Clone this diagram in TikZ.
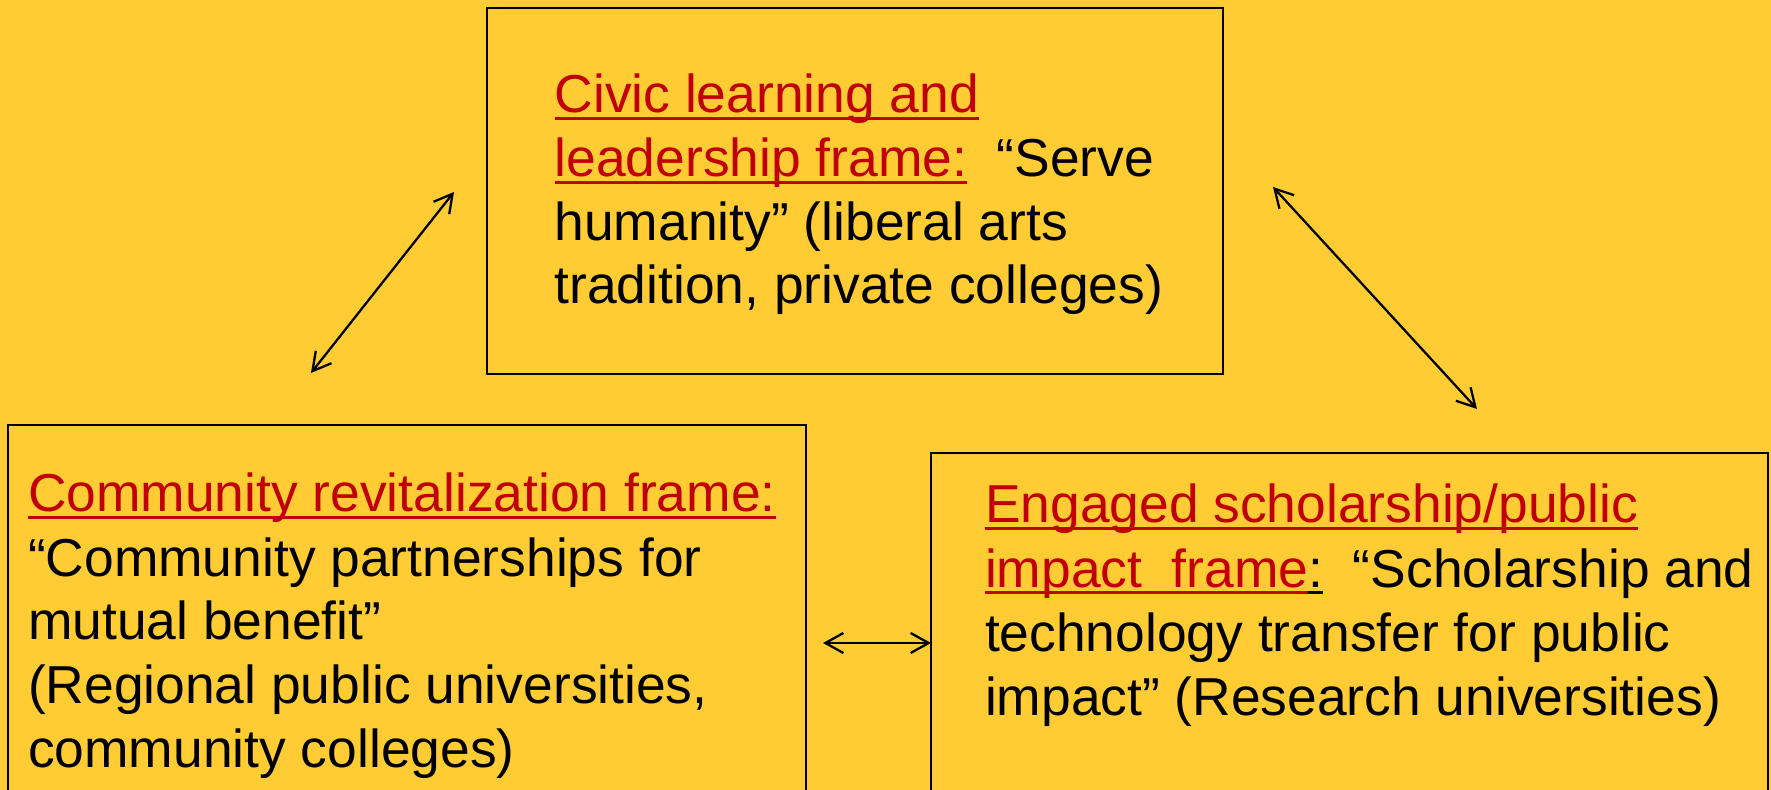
\documentclass[tikz,border=0pt]{standalone}
\usepackage{fontspec}
\setmainfont{Liberation Sans}
\usetikzlibrary{arrows.meta,calc}
\definecolor{bgyellow}{RGB}{255,204,51}
\definecolor{framered}{RGB}{192,0,0}
% coloured text with a flat underline at a fixed depth below the baseline
\newcommand{\ulc}[2]{{\color{#1}\setbox0\hbox{#2}\rlap{\rule[-0.13em]{\wd0}{0.055em}}\box0}}
\begin{document}
\begin{tikzpicture}[x=0.5pt,y=-0.5pt,
  framebox/.style={draw=black,line width=1pt,rectangle,inner sep=0pt,outer sep=0pt},
  txt/.style={anchor=base west,inner sep=0pt,outer sep=0pt,font=\fontsize{26.7pt}{32pt}\selectfont},
  link/.style={line width=1.15pt,line join=round,
    {Straight Barb[length=9pt,width=10pt]}-{Straight Barb[length=9pt,width=10pt]}}]
\useasboundingbox (0,0) rectangle (1771,790);
\fill[bgyellow] (0,0) rectangle (1771,790);
\clip (0,0) rectangle (1771,790);

% the three frames
\node[framebox,minimum width=368pt,minimum height=183pt] (civic) at (855,191) {};
\node[framebox,minimum width=399pt,minimum height=200pt] (community) at (407,625) {};
\node[framebox,minimum width=418.5pt,minimum height=186pt] (engaged) at (1349.5,639) {};

% civic learning frame text
\node[txt] (c1) at (554.6,113) {\ulc{framered}{Civic learning and}};
\node[txt] (c2) at (554.6,177) {\ulc{framered}{leadership frame:}\ \ “Serve};
\node[txt] (c3) at (554.6,241) {humanity” (liberal arts};
\node[txt] (c4) at (554.6,304) {tradition, private colleges)};

% community revitalization frame text
\node[txt] (r1) at (28,512) {\ulc{framered}{Community revitalization frame:}};
\node[txt] (r2) at (28,576) {“Community partnerships for};
\node[txt] (r3) at (28,639) {mutual benefit”};
\node[txt] (r4) at (28,703) {(Regional public universities,};
\node[txt] (r5) at (28,767) {community colleges)};

% engaged scholarship frame text
\node[txt] (e1) at (985,523) {\ulc{framered}{Engaged scholarship/public}};
\node[txt] (e2) at (985,587) {\ulc{framered}{impact\ \ frame}\ulc{black}{:}\ \ “Scholarship and};
\node[txt] (e3) at (985,651) {technology transfer for public};
\node[txt] (e4) at (985,715) {impact” (Research universities)};

% two-way links between the frames
\coordinate (la) at ($(community.north)+(-96,-52)$);
\coordinate (lb) at ($(civic.west)+(-33,1)$);
\coordinate (ra) at ($(civic.east)+(50,-4)$);
\coordinate (rb) at ($(engaged.north)+(127.5,-44)$);
\coordinate (ha) at ($(community.east)+(17,18)$);
\draw[link] (la) -- (lb);
\draw[link] (ra) -- (rb);
\draw[link] (ha) -- (ha -| engaged.west);
\end{tikzpicture}
\end{document}
